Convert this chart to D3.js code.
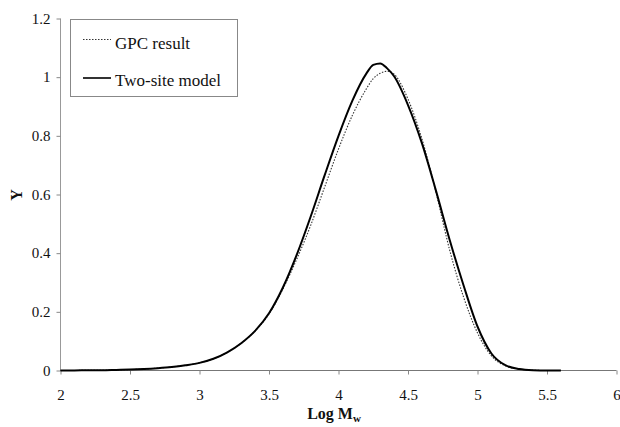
<!DOCTYPE html>
<html><head><meta charset="utf-8">
<script src="https://cdn.jsdelivr.net/npm/d3@7"></script>
<style>
html,body{margin:0;padding:0;background:#fff;}
svg{display:block;}
svg text{font-family:"Liberation Serif","Times New Roman",Times,"DejaVu Serif",serif !important;}
</style></head>
<body>
<svg id="chart" width="620" height="427"></svg>
<script>
// Data
const logMw = [2.0,2.1,2.2,2.3,2.4,2.5,2.6,2.7,2.8,2.9,3.0,3.1,3.2,3.3,3.4,3.5,3.6,3.7,3.8,3.9,4.0,4.1,4.2,4.25,4.3,4.35,4.4,4.5,4.6,4.7,4.8,4.9,5.0,5.1,5.2,5.3,5.4,5.5,5.6];
const twoSiteModel = [0,0,0.001,0.001,0.002,0.003,0.005,0.008,0.012,0.018,0.026,0.040,0.062,0.093,0.135,0.195,0.283,0.395,0.525,0.665,0.800,0.920,1.012,1.042,1.047,1.030,1.003,0.905,0.775,0.615,0.445,0.290,0.150,0.058,0.018,0.005,0.001,0,0];
const gpcResult    = [0,0,0.001,0.001,0.002,0.003,0.005,0.008,0.012,0.018,0.026,0.040,0.062,0.093,0.135,0.193,0.278,0.380,0.495,0.625,0.755,0.870,0.960,0.995,1.013,1.020,1.010,0.925,0.790,0.610,0.410,0.250,0.128,0.050,0.016,0.005,0.001,0,0];
const xTicks = [2,2.5,3,3.5,4,4.5,5,5.5,6];
const yTicks = [0,0.2,0.4,0.6,0.8,1,1.2];
const legendLabels = ["GPC result","Two-site model"];

const svg = d3.select("#chart");
const x = d3.scaleLinear().domain([2,6]).range([60.5,616.5]);
const y = d3.scaleLinear().domain([0,1.2]).range([370.5,18.5]);

// Y axis
const yAxis = d3.axisLeft(y).tickValues(yTicks).tickFormat(d3.format("~g")).tickSize(4).tickPadding(6);
const gy = svg.append("g").attr("transform","translate(60.5,0)").call(yAxis);
gy.select(".domain").attr("stroke","#999").attr("d","M0,18.5V370.5");
gy.selectAll(".tick line").attr("stroke","#888");
gy.selectAll(".tick text").attr("font-size",15).attr("fill","#111");

// X axis
const xAxis = d3.axisBottom(x).tickValues(xTicks).tickFormat(d3.format("~g")).tickSize(4).tickPadding(15);
const gx = svg.append("g").attr("transform","translate(0,370.5)").call(xAxis);
gx.select(".domain").attr("stroke","#777").attr("d","M60.5,0H616.5");
gx.selectAll(".tick line").attr("stroke","#888");
gx.selectAll(".tick text").attr("font-size",15).attr("fill","#111");

// Curves
const lineGen = vals => d3.line().x((d,i)=>x(logMw[i])).y(d=>y(d)).curve(d3.curveMonotoneX)(vals);
svg.append("path").attr("d",lineGen(gpcResult)).attr("fill","none")
  .attr("stroke","#333").attr("stroke-width",1.1).attr("stroke-dasharray","1.5,1.5");
svg.append("path").attr("d",lineGen(twoSiteModel)).attr("fill","none")
  .attr("stroke","#000").attr("stroke-width",2);

// Legend
const lg = svg.append("g");
lg.append("rect").attr("x",70.5).attr("y",19.5).attr("width",167).attr("height",77)
  .attr("fill","#fff").attr("stroke","#888").attr("stroke-width",1);
lg.append("line").attr("x1",83).attr("x2",111).attr("y1",39.5).attr("y2",39.5)
  .attr("stroke","#333").attr("stroke-width",1.1).attr("stroke-dasharray","1.5,1.5");
lg.append("line").attr("x1",83).attr("x2",111).attr("y1",78).attr("y2",78)
  .attr("stroke","#000").attr("stroke-width",1.6);
lg.append("text").attr("x",115).attr("y",49).attr("font-size",17).attr("fill","#111").text(legendLabels[0]);
lg.append("text").attr("x",115).attr("y",86).attr("font-size",17).attr("fill","#111").text(legendLabels[1]);

// Axis titles
svg.append("text").attr("transform","translate(22,195) rotate(-90)").attr("text-anchor","middle")
  .attr("font-size",16).attr("font-weight","bold").attr("fill","#111").text("Y");
const xt = svg.append("text").attr("x",334).attr("y",419).attr("text-anchor","middle")
  .attr("font-size",16).attr("font-weight","bold").attr("fill","#111");
xt.append("tspan").text("Log M");
xt.append("tspan").attr("font-size",11).attr("dy",3).text("w");
</script>
</body></html>
